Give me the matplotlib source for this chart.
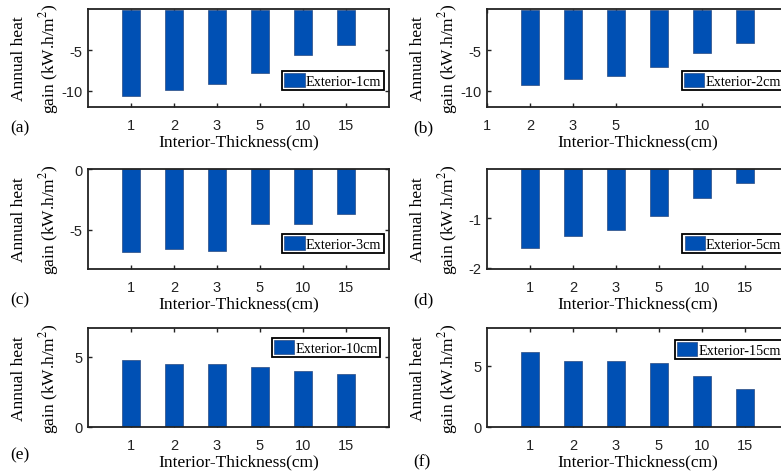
import matplotlib
matplotlib.use("Agg")
import numpy as np
import matplotlib.pyplot as plt

plt.rcParams['mathtext.fontset'] = 'stix'
plt.rcParams['axes.unicode_minus'] = False

# interior thickness categories (cm)
cats = ['1', '2', '3', '5', '10', '15']

# annual heat gain (kW.h/m2) per exterior thickness
ext1 = [-10.65, -9.9, -9.2, -7.75, -5.6, -4.3]
ext2 = [-9.25, -8.6, -8.2, -7.1, -5.3, -4.1]
ext3 = [-6.8, -6.6, -6.7, -4.5, -4.5, -3.7]
ext5 = [-1.61, -1.37, -1.24, -0.95, -0.58, -0.29]
ext10 = [4.8, 4.5, 4.5, 4.3, 4.0, 3.75]
ext15 = [6.1, 5.4, 5.4, 5.2, 4.15, 3.1]

legends = ['Exterior-1cm', 'Exterior-2cm', 'Exterior-3cm',
           'Exterior-5cm', 'Exterior-10cm', 'Exterior-15cm']
letters = ['(a)', '(b)', '(c)', '(d)', '(e)', '(f)']

BLUE = '#0050b4'
SERIF = 'Liberation Serif'
SANS = 'Liberation Sans'

W, H = 781, 477
fig = plt.figure(figsize=(W / 100, H / 100), dpi=100)

# axes boxes in pixels: left, top, right, bottom
lefts = [88, 487]
rows = [(10, 108), (170, 270), (329, 428)]
aw = 301

series = [ext1, ext2, ext3, ext5, ext10, ext15]
ylims = [(-12, 0.1), (-12, 0.1), (-8.2, 0), (-2.03, 0), (0, 7.05), (0, 8.1)]
yticks = [[-10, -5], [-10, -5], [-5, 0], [-2, -1], [0, 5], [0, 5]]
leg_loc = ['lower right'] * 4 + ['upper right'] * 2
leg_anchor = [(0.982, 0.17), (0.985, 0.17), (0.982, 0.16), (0.985, 0.16),
              (0.97, 0.90), (0.985, 0.88)]
letter_y = [128, 128, 300, 300, 455, 462]

for i in range(6):
    col = i % 2
    top, bot = rows[i // 2]
    l = lefts[col]
    ax = fig.add_axes([l / W, 1 - bot / H, aw / W, (bot - top) / H])
    x = np.arange(1, 7)
    ax.bar(x, series[i], width=0.42, color=BLUE, edgecolor='#2a4a80',
           linewidth=0.5, label=legends[i], zorder=2)
    ax.set_xlim(0, 7)
    ax.set_ylim(*ylims[i])
    if i == 1:
        # odd tick labelling in panel (b)
        ax.set_xticks([0, 1, 2, 3, 5])
        ax.set_xticklabels(['1', '2', '3', '5', '10'])
    else:
        ax.set_xticks(x)
        ax.set_xticklabels(cats)
    ax.set_yticks(yticks[i])
    ax.tick_params(direction='in', top=True, right=True, length=3,
                   width=1, labelsize=10.5, colors='#222222')
    ax.tick_params(axis='x', pad=8)
    ax.tick_params(axis='y', pad=4)
    for lab in ax.get_xticklabels() + ax.get_yticklabels():
        lab.set_fontfamily(SANS)
    for s in ax.spines.values():
        s.set_linewidth(1.3)
        s.set_color('#222222')
    ax.set_xlabel('Interior-Thickness(cm)', fontfamily=SERIF,
                  fontsize=12.5, labelpad=1)
    ax.set_ylabel('Annual heat\ngain (kW.h/m$^2$)', fontfamily=SERIF,
                  fontsize=12.5, linespacing=1.6)
    ax.yaxis.set_label_coords((61 - 88) / aw, 0.5)
    leg = ax.legend(loc=leg_loc[i], bbox_to_anchor=leg_anchor[i],
                    prop={'family': SERIF, 'size': 10.3},
                    fancybox=False, framealpha=1, edgecolor='black',
                    borderpad=0.15, handlelength=1.4, handleheight=1.1,
                    handletextpad=0.1, borderaxespad=0)
    leg.get_frame().set_linewidth(1.3)
    fig.text((10 if col == 0 else 413) / W, 1 - letter_y[i] / H, letters[i],
             fontfamily=SERIF, fontsize=12.5, va='center', ha='left')

fig.savefig('out.png', dpi=100)
